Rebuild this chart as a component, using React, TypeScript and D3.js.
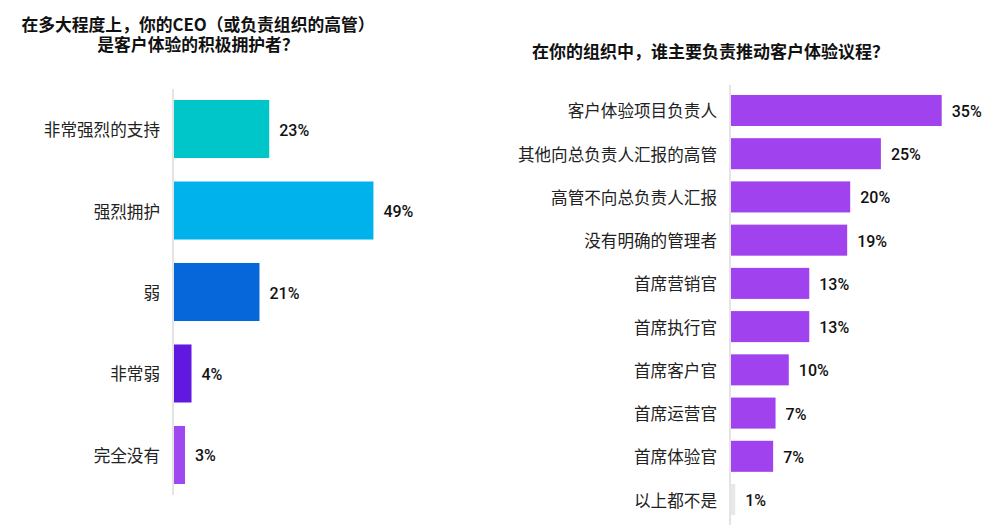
import * as d3 from "d3";

// left chart: CEO advocacy
const leftTitle = ["在多大程度上，你的CEO（或负责组织的高管）", "是客户体验的积极拥护者？"];
const leftCats = ["非常强烈的支持", "强烈拥护", "弱", "非常弱", "完全没有"];
const leftVals = [23.4, 49, 21, 4.3, 2.7];
const leftColors = ["#00C6CA", "#00B2EC", "#0567DA", "#6119E2", "#A048F0"];

// right chart: who owns the CX agenda
const rightTitle = "在你的组织中，谁主要负责推动客户体验议程？";
const rightCats = [
    "客户体验项目负责人",
    "其他向总负责人汇报的高管",
    "高管不向总负责人汇报",
    "没有明确的管理者",
    "首席营销官",
    "首席执行官",
    "首席客户官",
    "首席运营官",
    "首席体验官",
    "以上都不是",
];
const rightVals = [35, 24.9, 19.8, 19.3, 13, 13, 9.6, 7.4, 7, 0.7];
const rightColor = "#A043EF";
const noneColor = "#E8E8E8";

const cjk = "'Noto Sans CJK SC', 'Noto Sans', sans-serif";
const num = "Roboto, 'Noto Sans', sans-serif";

type BarProps = {
    cats: string[];
    vals: number[];
    colors: string[];
    x0: number;
    pxMax: number;
    maxVal: number;
    y0: number;
    y1: number;
    padIn: number;
    padOut: number;
};

function Bars({ cats, vals, colors, x0, pxMax, maxVal, y0, y1, padIn, padOut }: BarProps) {
    const x = d3.scaleLinear().domain([0, maxVal]).range([x0, x0 + pxMax]);
    const y = d3.scaleBand<string>().domain(cats).range([y0, y1]).paddingInner(padIn).paddingOuter(padOut);
    const fmt = (v: number) => `${Math.round(v)}%`;

    return (
        <g>
            <line x1={x0 - 1} x2={x0 - 1} y1={y0} y2={y1} stroke="#E4E4E4" strokeWidth={2} />
            {cats.map((c, i) => {
                const yy = y(c) ?? 0;
                const cy = yy + y.bandwidth() / 2;
                return (
                    <g key={c}>
                        <rect x={x(0)} y={yy} width={x(vals[i]) - x(0)} height={y.bandwidth()} fill={colors[i]} />
                        <text
                            x={x0 - 14}
                            y={cy}
                            textAnchor="end"
                            dominantBaseline="central"
                            fontFamily={cjk}
                            fontSize={16.6}
                            fill="#222"
                        >
                            {c}
                        </text>
                        <text
                            x={x(vals[i]) + 10}
                            y={cy + 1}
                            dominantBaseline="central"
                            fontFamily={num}
                            fontSize={16}
                            fontWeight={500}
                            fill="#111"
                        >
                            {fmt(vals[i])}
                        </text>
                    </g>
                );
            })}
        </g>
    );
}

export default function App() {
    const rightColors = rightCats.map((c, i) => (i === rightCats.length - 1 ? noneColor : rightColor));
    return (
        <div style={{ position: "absolute", left: 0, top: 0 }}>
            <svg width={1000} height={530} style={{ display: "block", background: "#fff" }}>
                {leftTitle.map((t, i) => (
                    <text
                        key={t}
                        x={198}
                        y={30.5 + i * 20.5}
                        textAnchor="middle"
                        fontFamily={cjk}
                        fontSize={16.8}
                        fontWeight={700}
                        fill="#111"
                    >
                        {t}
                    </text>
                ))}
                <text x={532} y={58} fontFamily={cjk} fontSize={17} fontWeight={700} fill="#111">
                    {rightTitle}
                </text>
                <Bars
                    cats={leftCats}
                    vals={leftVals}
                    colors={leftColors}
                    x0={174}
                    pxMax={203.5}
                    maxVal={50}
                    y0={89}
                    y1={495}
                    padIn={0.288}
                    padOut={0.135}
                />
                <Bars
                    cats={rightCats}
                    vals={rightVals}
                    colors={rightColors}
                    x0={731}
                    pxMax={240.8}
                    maxVal={40}
                    y0={85}
                    y1={525}
                    padIn={0.282}
                    padOut={0.23}
                />
            </svg>
        </div>
    );
}
